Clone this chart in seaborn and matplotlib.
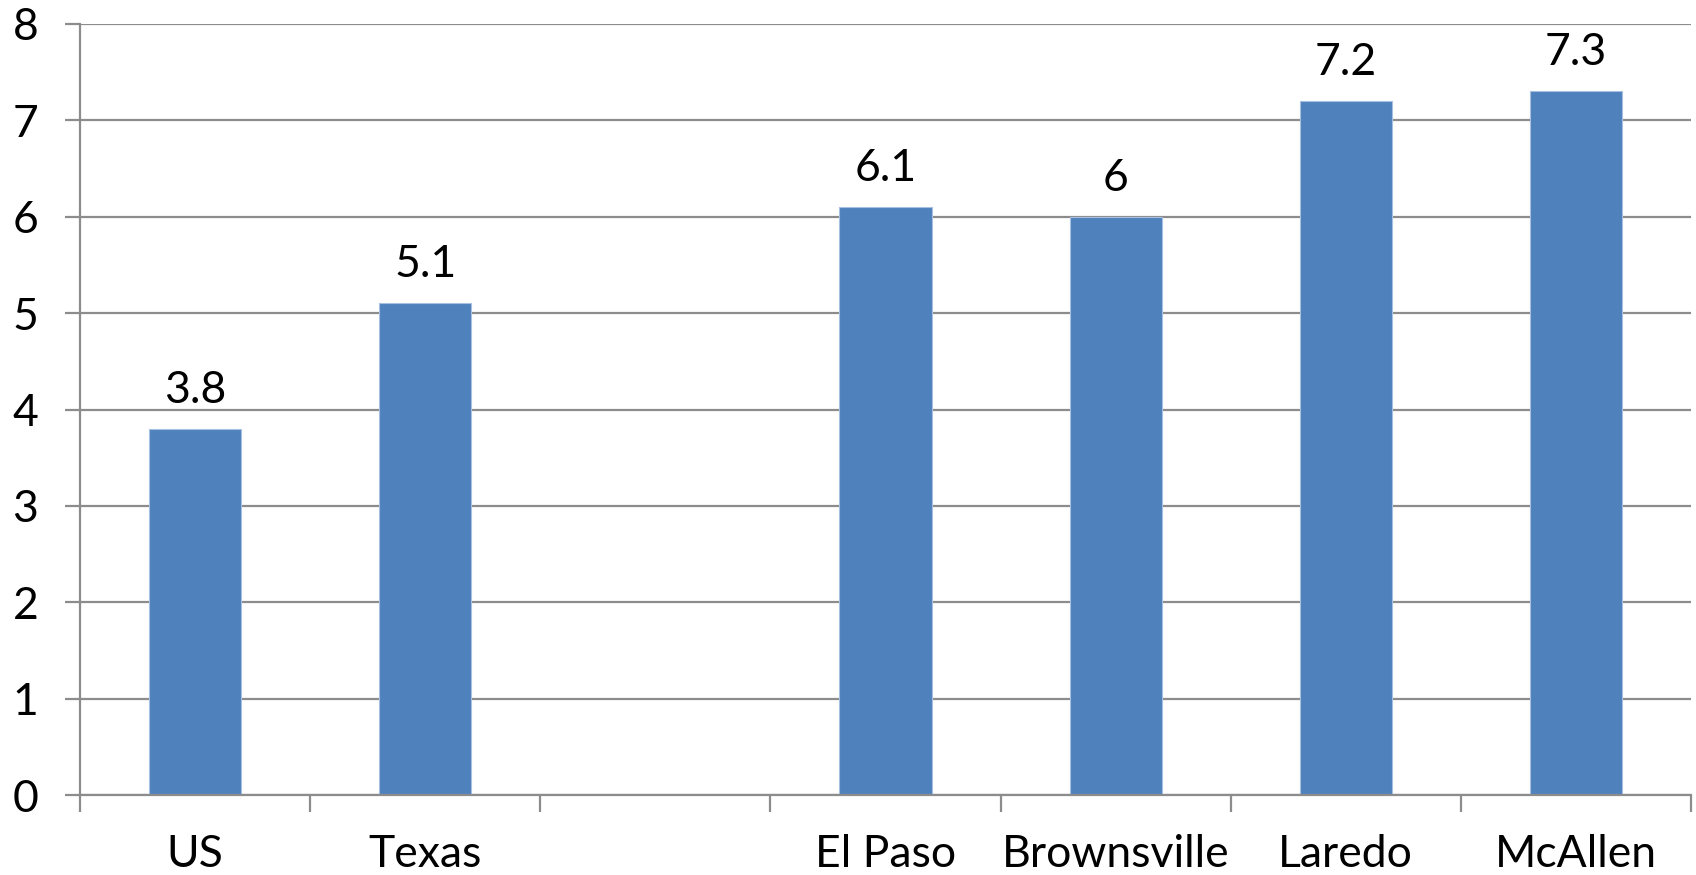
import numpy as np
import pandas as pd
import matplotlib
matplotlib.use("Agg")
import matplotlib.pyplot as plt
import seaborn as sns

# Category order (the empty string leaves a gap between Texas and the cities)
categories = ["US", "Texas", "", "El Paso", "Brownsville", "Laredo", "McAllen"]
regions = ["US", "Texas", "El Paso", "Brownsville", "Laredo", "McAllen"]
values = [3.8, 5.1, 6.1, 6.0, 7.2, 7.3]
y_ticks = [0, 1, 2, 3, 4, 5, 6, 7, 8]

df = pd.DataFrame({"region": regions, "value": values})

sns.set_style("white")
plt.rcParams["font.family"] = ["Lato", "DejaVu Sans"]

BAR = "#4F81BD"
GRID = "#8C8C8C"
FS = 32

fig = plt.figure(figsize=(16.96, 8.75), dpi=100)
ax = fig.add_axes([0.0472, 0.0914, 0.9498, 0.8812])

sns.barplot(data=df, x="region", y="value", order=categories, color=BAR,
            width=0.4, saturation=1, ax=ax, edgecolor="#A7BFE0", linewidth=0.8)

ax.set_xlim(-0.5, len(categories) - 0.5)
ax.set_ylim(0, 8)
ax.set_yticks(y_ticks)
ax.set_yticklabels([str(t) for t in y_ticks])
ax.set_xlabel("")
ax.set_ylabel("")

# Horizontal gridlines
ax.set_axisbelow(True)
ax.yaxis.grid(True, color=GRID, linewidth=1.6)
ax.xaxis.grid(False)

# Spines
for s in ["top", "right"]:
    ax.spines[s].set_visible(False)
for s in ["left", "bottom"]:
    ax.spines[s].set_color(GRID)
    ax.spines[s].set_linewidth(1.6)

# Category boundary ticks
ax.set_xticks(np.arange(-0.5, len(categories)), minor=True)
ax.tick_params(axis="x", which="minor", length=12, width=1.6, color=GRID, direction="out")
ax.tick_params(axis="x", which="major", length=0, pad=28, labelsize=FS, colors="black")
ax.tick_params(axis="y", which="major", length=11, width=1.6, color=GRID, direction="out",
               pad=19, labelsize=FS, labelcolor="black")
ax.tick_params(axis="both", which="both", bottom=True, left=True)

# Value labels above bars
for i, cat in enumerate(categories):
    if cat in regions:
        v = values[regions.index(cat)]
        ax.annotate(f"{v:g}", xy=(i, v), xytext=(0, 13), textcoords="offset points",
                    ha="center", va="bottom", fontsize=FS, color="black")

fig.savefig("out.png", dpi=100, facecolor="white")
